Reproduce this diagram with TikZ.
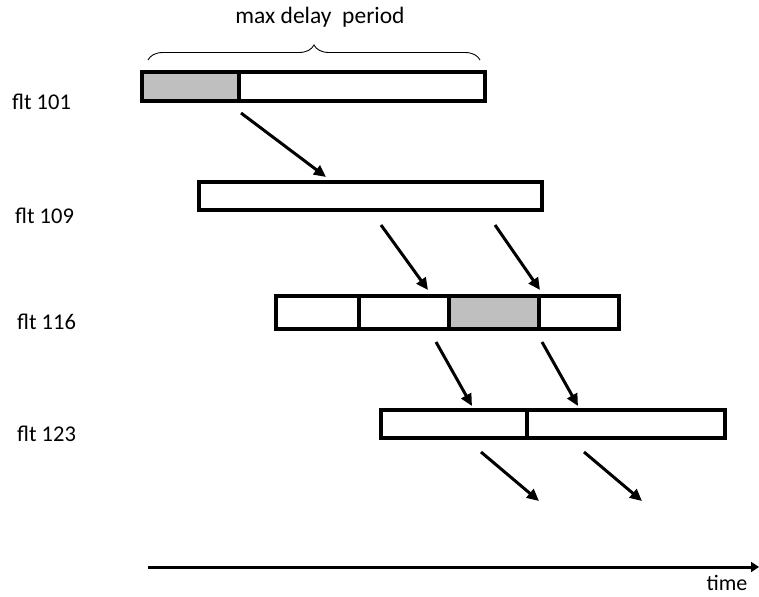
\documentclass[tikz,border=0pt]{standalone}
\usepackage{fontspec}
\setmainfont{Carlito}
\usetikzlibrary{arrows.meta,decorations.pathreplacing}
\begin{document}
\begin{tikzpicture}[x=1pt,y=-1pt,
  bar/.style={draw=black,line width=3.2pt,fill=white,inner sep=0pt,outer sep=0pt,anchor=north west},
  sep/.style={line width=3.2pt},
  shade/.style={fill=black!25},
  flow/.style={line width=3pt,-{Triangle[length=12pt,width=11pt]}},
  lbl/.style={font=\fontsize{22.5}{26}\selectfont,anchor=west,inner sep=0pt},
  ]
\useasboundingbox (0,0) rectangle (759,596);

% flight labels
\node[lbl] (l101) at (12,102) {flt 101};
\node[lbl] (l109) at (15,216) {flt 109};
\node[lbl] (l116) at (17,322) {flt 116};
\node[lbl] (l123) at (17,434) {flt 123};

% flt 101
\fill[shade] (142,72) rectangle (239,101);
\node[bar,fill=none,minimum width=343pt,minimum height=29pt] (b101) at (142,72) {};
\draw[sep] (239,72) -- (239,101);

% flt 109
\node[bar,minimum width=343pt,minimum height=28pt] (b109) at (199,182) {};

% flt 116
\fill[white] (276,296) rectangle (619,329);
\fill[shade] (449,296) rectangle (539,329);
\node[bar,fill=none,minimum width=343pt,minimum height=33pt] (b116) at (276,296) {};
\draw[sep] (359,296) -- (359,329) (449,296) -- (449,329) (539,296) -- (539,329);

% flt 123
\node[bar,minimum width=344pt,minimum height=28pt] (b123) at (381,410) {};
\draw[sep] (527,410) -- (527,438);

% brace over the first bar
\draw[line width=0.9pt,decorate,decoration={brace,amplitude=15pt,aspect=0.5}]
  (148,60) -- (480,60);
\node[font=\fontsize{23.5}{27}\selectfont,inner sep=0pt] (maxd) at (320,17) {max delay\ \ period};

% propagation arrows
\coordinate (p1s) at (241,113); \coordinate (p1e) at (326,177);
\coordinate (p2s) at (381,225); \coordinate (p2e) at (428,290);
\coordinate (p3s) at (495,225); \coordinate (p3e) at (540,290);
\coordinate (p4s) at (436,342); \coordinate (p4e) at (472,406);
\coordinate (p5s) at (542,342); \coordinate (p5e) at (578,406);
\coordinate (p6s) at (481,452); \coordinate (p6e) at (539,501);
\coordinate (p7s) at (584,452); \coordinate (p7e) at (642,501);
\foreach \i in {1,...,7} \draw[flow] (p\i s) -- (p\i e);

% time axis
\coordinate (t0) at (148,567);
\coordinate (t1) at (759,567);
\draw[line width=3pt,-{Triangle[length=8pt,width=10pt]}] (t0) -- (t1);
\node[font=\fontsize{22}{26}\selectfont,inner sep=0pt] (tlbl) at (727,583) {time};
\end{tikzpicture}
\end{document}
